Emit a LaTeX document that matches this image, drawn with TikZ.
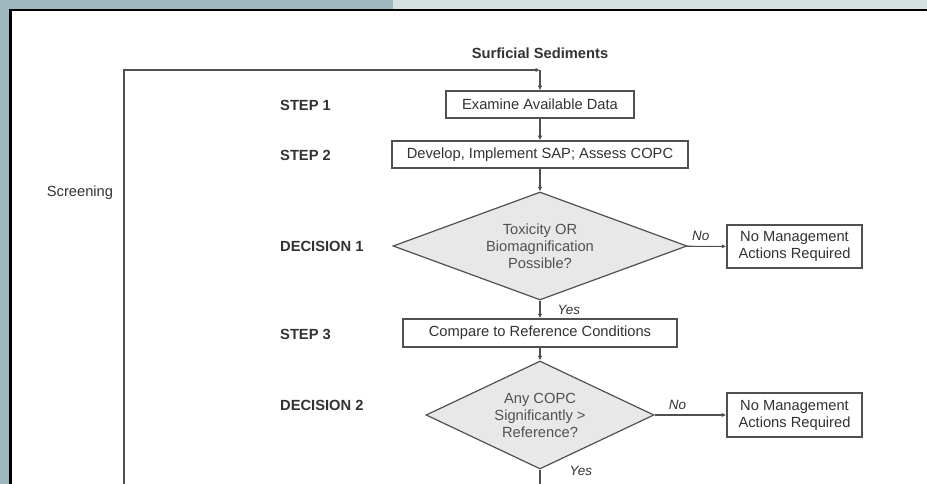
\documentclass[tikz,border=0pt]{standalone}
\usepackage{fontspec}
\setmainfont{Liberation Sans}
\usetikzlibrary{shapes.geometric,arrows.meta}
\definecolor{frameteal}{RGB}{157,185,189}
\definecolor{framelight}{RGB}{214,224,225}
\definecolor{inkgray}{RGB}{50,50,50}
\definecolor{linegray}{RGB}{80,80,80}
\definecolor{diafill}{RGB}{232,232,232}
\tikzset{
  txt/.style={inner sep=1pt, text=inkgray, font=\fontsize{14.7}{17}\selectfont},
  head/.style={txt, font=\fontsize{14.7}{17}\selectfont\bfseries},
  steplab/.style={head, anchor=west},
  ans/.style={txt, font=\fontsize{13.5}{15}\selectfont\itshape},
  box/.style={txt, draw=linegray, line width=1.5pt, fill=white, minimum height=27pt, inner sep=0pt, align=center},
  choice/.style={txt, shape=diamond, draw=linegray, line width=1.2pt, fill=diafill, text=inkgray!85, inner sep=0pt, aspect=2.7, minimum height=108pt, align=center},
  conn/.style={draw=linegray, line width=1.1pt, -{Latex[length=4.5pt,width=4.5pt]}}
}
\begin{document}
\begin{tikzpicture}[x=1pt, y=-1pt]
\useasboundingbox (0,0) rectangle (927,484);
\fill[frameteal] (0,0) rectangle (393,9);
\fill[framelight] (393,0) rectangle (927,9);
\fill[frameteal] (0,0) rectangle (9,484);
\draw[black, line width=2.5pt] (10.25,484) |- (927,10.25);

\node[head] (src) at (540,53) {Surficial Sediments};
\node[box, minimum width=188pt] (data) at (540,104.5) {Examine Available Data};
\node[box, minimum width=296pt] (sap) at (540,154.5) {Develop, Implement SAP; Assess COPC};
\node[choice, minimum width=294pt] (tox) at (540,246) {Toxicity OR\\Biomagnification\\Possible?};
\node[box, minimum width=135pt, minimum height=43pt] (none1) at (794.5,246.5) {No Management\\Actions Required};
\node[box, minimum width=274pt, minimum height=28pt] (ref) at (540,333) {Compare to Reference Conditions};
\node[choice, minimum width=228pt] (copc) at (540,415) {Any COPC\\Significantly >\\Reference?};
\node[box, minimum width=135pt, minimum height=44pt] (none2) at (794.5,415) {No Management\\Actions Required};

\node[txt] (scr) at (80,193) {Screening};
\foreach \y/\t [count=\i] in {105/STEP 1, 155/STEP 2, 246/DECISION 1, 334/STEP 3, 405/DECISION 2}
  \node[steplab] (step\i) at (279,\y) {\t};

\coordinate (join) at (540,70);
\coordinate (loop) at (124,484);
\coordinate (out) at (540,484);

\draw[conn] (loop) |- (join);
\draw[conn] (join) -- (data);
\draw[conn] (data) -- (sap);
\draw[conn] (sap) -- (tox);
\draw[conn] (tox) -- (none1) node[ans, above=4pt, pos=0.35] (no1) {No};
\draw[conn] (tox) -- (ref) node[ans, anchor=west, pos=0.5, xshift=16pt] (yes1) {Yes};
\draw[conn] (ref) -- (copc);
\draw[conn] (copc) -- (none2) node[ans, above=4pt, pos=0.32] (no2) {No};
\draw[linegray, line width=1.1pt] (copc) -- (out) node[ans, anchor=west, pos=0.1, xshift=28pt] (yes2) {Yes};
\end{tikzpicture}
\end{document}
